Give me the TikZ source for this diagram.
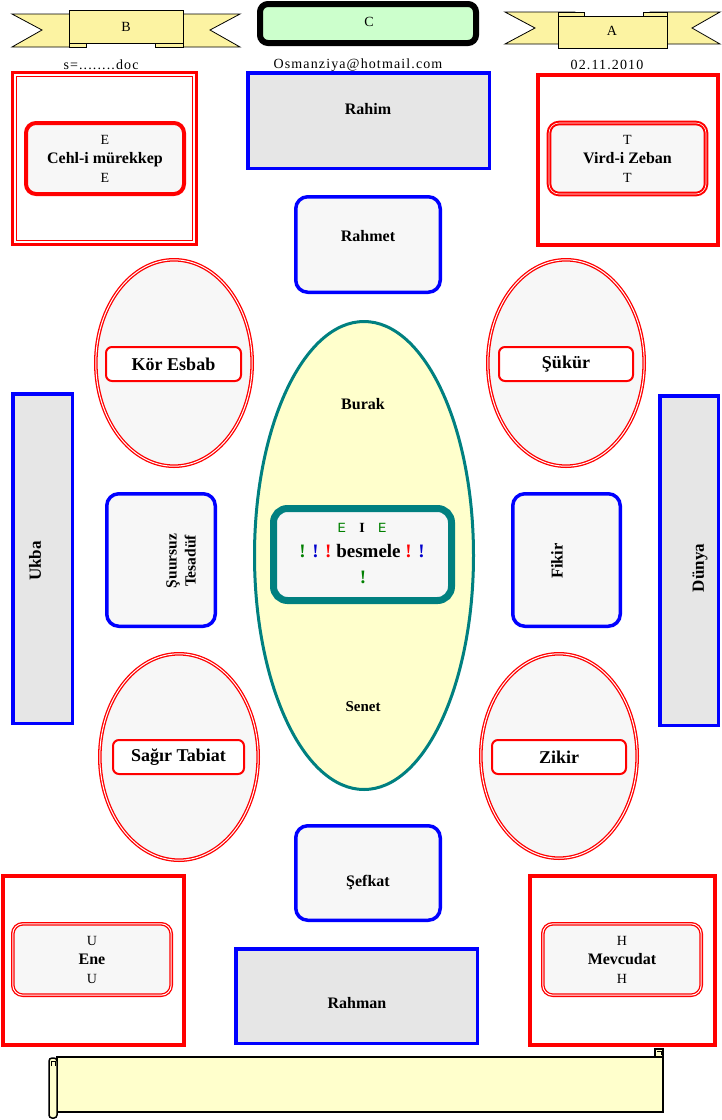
\documentclass[tikz,border=0pt]{standalone}
\usepackage{fontspec}
\setmainfont{Liberation Serif}
\newfontfamily\monof{Liberation Mono}
\usetikzlibrary{shapes.geometric}
\definecolor{tealc}{HTML}{008080}
\definecolor{ovfill}{HTML}{F7F7F7}
\definecolor{grfill}{HTML}{E6E6E6}
\definecolor{scrollc}{HTML}{FFFFCC}
\definecolor{ribc}{HTML}{FCF3A2}
\definecolor{cgreen}{HTML}{CCFFCC}
\definecolor{tgreen}{HTML}{008000}
\definecolor{tblue}{HTML}{0000CC}
\definecolor{pred}{HTML}{FF0000}
\definecolor{pblue}{HTML}{0000FF}
\newcommand\fsz[2]{\fontsize{#1}{#2}\selectfont}
\begin{document}
\begin{tikzpicture}[x=1pt,y=-1pt,
  bluerect/.style={draw=pblue,line width=3.5pt,fill=grfill,inner sep=0pt},
  bluebox/.style={draw=pblue,line width=3.5pt,fill=ovfill,rounded corners=12pt,inner sep=0pt},
  oval/.style={ellipse,draw=pred,line width=1.3pt,double=white,double distance=1pt,fill=ovfill,inner sep=0pt},
  ovlabel/.style={draw=pred,line width=2pt,fill=white,rounded corners=6pt,inner sep=0pt,font=\bfseries\fsz{18}{21}},
  dblbox/.style={draw=pred,line width=1.3pt,double=white,double distance=1pt,fill=ovfill,rounded corners=10pt,inner sep=0pt,align=center,font=\fsz{14}{19}},
  thickbox/.style={draw=pred,line width=4pt,fill=ovfill,rounded corners=10pt,inner sep=0pt,align=center,font=\fsz{14}{19}},
  frame/.style={draw=pred,line width=4pt,inner sep=0pt},
  lbl/.style={font=\bfseries\fsz{16}{19},inner sep=0pt},
  vlbl/.style={font=\bfseries\fsz{17}{20},inner sep=0pt,rotate=90},
  toptxt/.style={font=\fsz{14}{16}\addfontfeature{LetterSpace=8},inner sep=0pt},
  rib/.style={draw=black,line width=0.8pt,fill=ribc},
  scrollst/.style={draw=black,line width=1.5pt,fill=scrollc}
]
\useasboundingbox (0,0) rectangle (721,1120);

% ---- ribbon B ----
\draw[rib] (12,14) -- (80,14) -- (80,47) -- (12,47) -- (42,30) -- cycle;
\draw[rib] (240,14) -- (172,14) -- (172,47) -- (240,47) -- (210,30) -- cycle;
\draw[rib] (69,43) rectangle (86,47);
\draw[rib] (155,43) rectangle (183,47);
\draw[rib] (69,10) rectangle (183,43);
\node[font=\fsz{14}{16}] (tB) at (126,27) {B};

% ---- ribbon A ----
\draw[rib] (505,12) -- (575,12) -- (575,44) -- (505,44) -- (535,28) -- cycle;
\draw[rib] (720,12) -- (650,12) -- (650,44) -- (720,44) -- (692,28) -- cycle;
\draw[rib] (558,12) rectangle (584,16);
\draw[rib] (643,12) rectangle (667,16);
\draw[rib] (558,16) rectangle (667,48);
\node[font=\fsz{14}{16}] (tA) at (612,31) {A};

% ---- C box ----
\node[draw=black,line width=6pt,fill=cgreen,rounded corners=8pt,minimum width=216pt,minimum height=39pt,inner sep=0pt] (C) at (368,23.5) {};
\node[font=\fsz{14}{16}] (tC) at (369,22) {C};

% ---- top texts ----
\node[toptxt] (s) at (101,65) {s=........doc};
\node[toptxt] (mail) at (358,65) {Osmanziya@hotmail.com};
\node[toptxt] (date) at (607,65) {02.11.2010};

% ---- top-left frame ----
\draw[draw=pred,line width=3pt] (12.5,72.5) rectangle (196.5,244.5);
\draw[draw=pred,line width=1pt] (16.5,76.5) rectangle (192.5,240.5);
\node[thickbox,minimum width=158pt,minimum height=71pt] (cehl) at (105,158.5)
  {E\\ {\bfseries\fsz{16}{19}Cehl-i mürekkep}\\ E};

% ---- top-right frame ----
\node[frame,minimum width=180pt,minimum height=170pt] (trf) at (628,160) {};
\node[draw=pred,line width=2pt,double=white,double distance=0.6pt,fill=ovfill,rounded corners=10pt,inner sep=0pt,align=center,font=\fsz{14}{19},minimum width=157pt,minimum height=71pt] (vird) at (627.5,158.5)
  {T\\ {\bfseries\fsz{16}{19}Vird-i Zeban}\\ T};

% ---- Rahim / Rahmet ----
\node[bluerect,minimum width=241.5pt,minimum height=95.5pt] (rahim) at (368.5,120.5) {};
\node[lbl] (trahim) at (368,109) {Rahim};
\node[bluebox,minimum width=144.5pt,minimum height=95.5pt] (rahmet) at (368,244.5) {};
\node[lbl] (trahmet) at (368,236) {Rahmet};

% ---- side bars ----
\node[bluerect,minimum width=59.5pt,minimum height=329.5pt] (ukba) at (42.5,558.5) {};
\node[vlbl] (tukba) at (35,561) {Ukba};
\node[bluerect,minimum width=58.5pt,minimum height=329.5pt] (dunya) at (689,560.5) {};
\node[vlbl] (tdunya) at (700,568) {Dünya};

% ---- big center ellipse ----
\node[ellipse,draw=tealc,line width=3pt,fill=scrollc,minimum width=219pt,minimum height=468pt,inner sep=0pt] (center) at (364,555.5) {};
\node[lbl] (burak) at (363,404) {Burak};
\node[lbl,font=\bfseries\fsz{15}{18}] (senet) at (363,707) {Senet};
\node[draw=tealc,line width=7pt,fill=ovfill,rounded corners=14pt,minimum width=178pt,minimum height=92pt,inner sep=0pt] (bes) at (362.5,554.5) {};
\node[inner sep=0pt] (l1) at (362,528) {\fsz{14}{16}{\monof\color{tgreen}E}\hspace{0.95em}{\bfseries I}\hspace{0.95em}{\monof\color{tgreen}E}};
\node[inner sep=0pt] (l2) at (362,551) {\fsz{19}{22}\bfseries{\color{tgreen}!}\hspace{0.35em}{\color{tblue}!}\hspace{0.35em}{\color{pred}!}\hspace{0.25em}besmele\hspace{0.25em}{\color{pred}!}\hspace{0.35em}{\color{tblue}!}};
\node[inner sep=0pt] (l3) at (363,577) {\fsz{19}{22}\bfseries\color{tgreen}!};

% ---- ovals ----
\node[oval,minimum width=156.4pt,minimum height=206.4pt] (kor) at (174,363) {};
\node[ovlabel,minimum width=135pt,minimum height=34pt] (korl) at (173.5,364) {Kör Esbab};
\node[oval,minimum width=156.4pt,minimum height=206.4pt] (sukur) at (566,363) {};
\node[ovlabel,minimum width=134pt,minimum height=34pt] (sukurl) at (566,364) {Şükür};
\node[oval,minimum width=158.4pt,minimum height=206.4pt] (sagir) at (179,757) {};
\node[ovlabel,minimum width=131pt,minimum height=34pt] (sagirl) at (178.5,757) {Sağır Tabiat};
\node[oval,minimum width=156.4pt,minimum height=204.4pt] (zikir) at (559,756) {};
\node[ovlabel,minimum width=134pt,minimum height=34pt] (zikirl) at (559,757) {Zikir};

% ---- middle boxes ----
\node[bluebox,minimum width=108.5pt,minimum height=132.5pt] (suur) at (161,560) {};
\node[vlbl,align=center,font=\bfseries\fsz{15.5}{19}] (tsuur) at (181,561) {Şuursuz\\Tesadüf};
\node[bluebox,minimum width=107.5pt,minimum height=132.5pt] (fikir) at (566.5,560) {};
\node[vlbl,font=\bfseries\fsz{16.5}{19}] (tfikir) at (557,561) {Fikir};

% ---- Şefkat / Rahman ----
\node[bluebox,minimum width=144.5pt,minimum height=94.5pt] (sefkat) at (368,873) {};
\node[lbl] (tsefkat) at (368,883) {Şefkat};
\node[bluerect,minimum width=241.5pt,minimum height=94.5pt] (rahman) at (356.5,996) {};
\node[lbl] (trahman) at (357,1003) {Rahman};

% ---- bottom frames ----
\node[frame,minimum width=181pt,minimum height=169pt] (blf) at (93.5,960.5) {};
\node[dblbox,minimum width=158.4pt,minimum height=71.4pt] (ene) at (92,959.5)
  {U\\ {\bfseries\fsz{16}{19}Ene}\\ U};
\node[frame,minimum width=185pt,minimum height=169pt] (brf) at (622.5,960.5) {};
\node[dblbox,minimum width=158.4pt,minimum height=71.4pt] (mev) at (622,959.5)
  {H\\ {\bfseries\fsz{16}{19}Mevcudat}\\ H};

% ---- scroll ----
\draw[scrollst] (655,1049) rectangle (663,1058);
\draw[black,line width=0.8pt] (657,1051) -- (661,1051) -- (661,1055);
\draw[scrollst] (57,1057) rectangle (663,1112);
\draw[scrollst,rounded corners=3pt] (49,1058) rectangle (57,1118);
\draw[black,line width=0.8pt] (51,1066) -- (51,1061) -- (55,1061) -- (55,1066);
\end{tikzpicture}
\end{document}
